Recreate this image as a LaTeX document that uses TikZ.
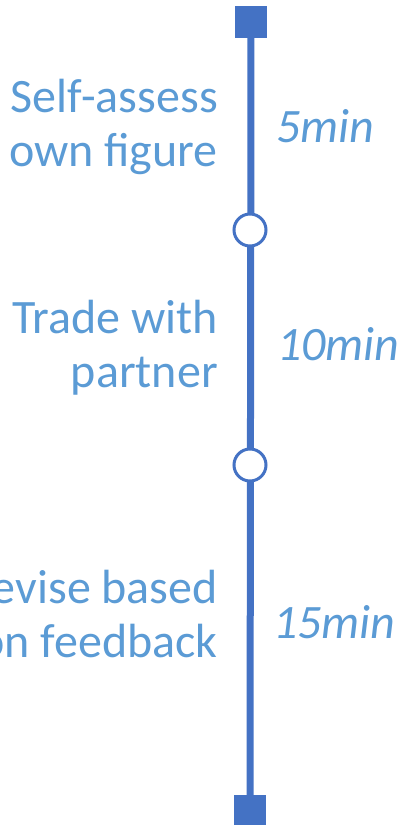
\documentclass[tikz,border=0pt]{standalone}
\usepackage{fontspec}
\setmainfont{Carlito}
\definecolor{txtblue}{HTML}{5B9BD5}
\definecolor{lineblue}{HTML}{4472C4}
\begin{document}
\begin{tikzpicture}[x=1pt,y=-1pt,
  stage/.style={font=\fontsize{48}{54}\selectfont, text=txtblue, align=right, anchor=base east, inner sep=0pt},
  dur/.style={font=\fontsize{48}{54}\selectfont\itshape, text=txtblue, anchor=base west, inner sep=0pt},
  endsq/.style={fill=lineblue, draw=none, minimum size=32pt, inner sep=0pt},
  milestone/.style={circle, draw=lineblue, line width=3pt, fill=white, minimum size=32pt, inner sep=0pt},
  tl/.style={draw=lineblue, line width=7pt}]
\useasboundingbox (0,0) rectangle (401,825);
\clip (0,0) rectangle (401,825);
\node[endsq] (top) at (251,22) {};
\node[endsq] (bot) at (250,811) {};
\coordinate (c1) at (250,230);
\coordinate (c2) at (250,465);
\draw[tl] (top.center) -- (bot.center);
\node[milestone] (m1) at (c1) {};
\node[milestone] (m2) at (c2) {};
\node[endsq] at (top.center) {};
\node[endsq] at (bot.center) {};
\node[stage] (s1) at (218,166) {Self-assess\\own figure};
\node[stage] (s2) at (218,387) {Trade with\\partner};
\node[stage] (s3) at (218,657) {Revise based\\on feedback};
\node[dur] (d1) at (276,142) {5min};
\node[dur] (d2) at (277,360) {10min};
\node[dur] (d3) at (273,638) {15min};
\end{tikzpicture}
\end{document}
